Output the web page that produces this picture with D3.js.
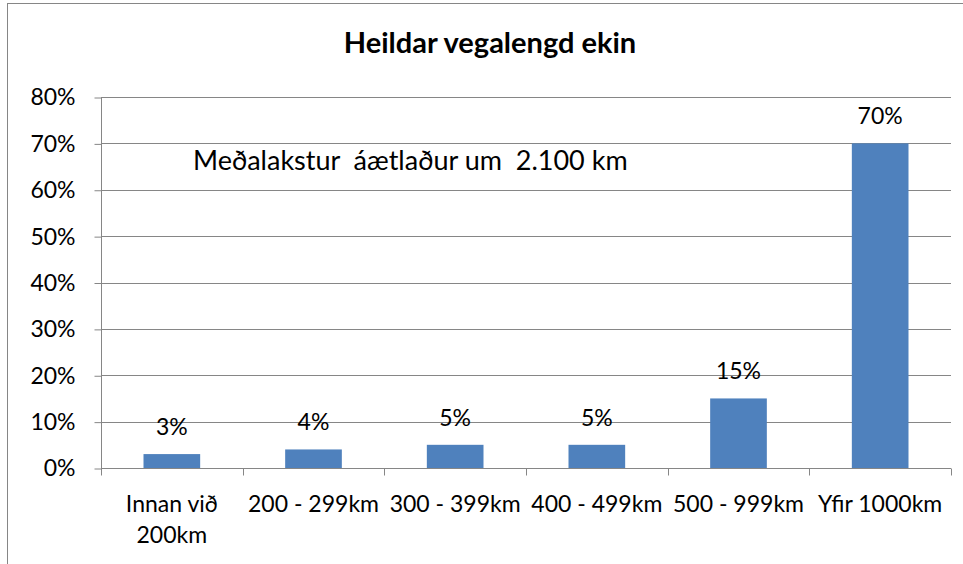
<!DOCTYPE html>
<html>
<head>
<meta charset="utf-8">
<script src="https://cdn.jsdelivr.net/npm/d3@7"></script>
<style>
  body { margin: 0; background: #fff; }
  text { font-family: Lato, "Open Sans", sans-serif; fill: #000; }
</style>
</head>
<body>
<svg id="chart" width="963" height="564"></svg>
<script>
// Gögn
const categories = [["Innan við", "200km"], ["200 - 299km"], ["300 - 399km"], ["400 - 499km"], ["500 - 999km"], ["Yfir 1000km"]];
const values = [0.03, 0.04, 0.05, 0.05, 0.15, 0.70];
const yTicks = [0, 0.1, 0.2, 0.3, 0.4, 0.5, 0.6, 0.7, 0.8];
const title = "Heildar vegalengd ekin";
const note = "Meðalakstur  áætlaður um  2.100 km";

const svg = d3.select("#chart");
const width = 963, height = 564;
const plotLeft = 101, plotRight = 951, plotTop = 97, plotBottom = 468;
const grey = "#868686";

// Rammi utan um grafið
svg.append("rect")
  .attr("x", 7.5).attr("y", 3.5)
  .attr("width", 975).attr("height", 600)
  .attr("fill", "none")
  .attr("stroke", grey)
  .attr("stroke-width", 1);

const x = d3.scaleBand()
  .domain(d3.range(categories.length))
  .range([plotLeft, plotRight])
  .paddingInner(0.6)
  .paddingOuter(0.3);

const y = d3.scaleLinear().domain([0, 0.8]).range([plotBottom, plotTop]);

// Hnitalínur
svg.append("g")
  .selectAll("line")
  .data(yTicks.slice(1))
  .join("line")
  .attr("x1", plotLeft).attr("x2", plotRight)
  .attr("y1", d => Math.round(y(d)) + 0.5)
  .attr("y2", d => Math.round(y(d)) + 0.5)
  .attr("stroke", grey);

// Y ás
const yAxis = svg.append("g")
  .attr("transform", `translate(${plotLeft + 0.5},0.5)`)
  .call(d3.axisLeft(y).tickValues(yTicks).tickFormat(d3.format(".0%")).tickSize(7).tickPadding(19));
yAxis.select(".domain").attr("stroke", grey).attr("d", `M0,${plotTop}V${plotBottom}`);
yAxis.selectAll(".tick line").attr("stroke", grey);
yAxis.selectAll(".tick text")
  .attr("font-family", "Lato, 'Open Sans', sans-serif")
  .attr("font-size", "23px")
  .attr("fill", "#000");

// X ás
const xAxis = svg.append("g")
  .attr("transform", `translate(0,${plotBottom + 0.5})`);
xAxis.append("line")
  .attr("x1", plotLeft).attr("x2", plotRight)
  .attr("stroke", grey);
const step = (plotRight - plotLeft) / categories.length;
xAxis.selectAll(".tk")
  .data(d3.range(categories.length + 1))
  .join("line")
  .attr("class", "tk")
  .attr("x1", i => Math.round(plotLeft + i * step) + 0.5)
  .attr("x2", i => Math.round(plotLeft + i * step) + 0.5)
  .attr("y1", 0).attr("y2", 7)
  .attr("stroke", grey);

xAxis.selectAll("text")
  .data(categories)
  .join("text")
  .attr("text-anchor", "middle")
  .attr("font-size", "23px")
  .attr("transform", (d, i) => `translate(${x(i) + x.bandwidth() / 2},43)`)
  .selectAll("tspan")
  .data(d => d)
  .join("tspan")
  .attr("x", 0)
  .attr("dy", (d, i) => i === 0 ? 0 : 31)
  .text(d => d);

// Súlur
svg.append("g")
  .selectAll("rect")
  .data(values)
  .join("rect")
  .attr("x", (d, i) => x(i))
  .attr("y", d => y(d))
  .attr("width", x.bandwidth())
  .attr("height", d => plotBottom - y(d))
  .attr("fill", "#4F81BD");

// Gildismerki
svg.append("g")
  .selectAll("text")
  .data(values)
  .join("text")
  .attr("x", (d, i) => x(i) + x.bandwidth() / 2)
  .attr("y", d => y(d) - 19)
  .attr("text-anchor", "middle")
  .attr("font-size", "23px")
  .text(d => d3.format(".0%")(d));

// Titill
svg.append("text")
  .attr("x", 490)
  .attr("y", 53)
  .attr("text-anchor", "middle")
  .attr("font-size", "29px")
  .attr("font-weight", "bold")
  .text(title);

// Athugasemd
svg.append("text")
  .attr("x", 193)
  .attr("y", 170)
  .attr("font-size", "27px")
  .style("white-space", "pre")
  .text(note);
</script>
</body>
</html>
